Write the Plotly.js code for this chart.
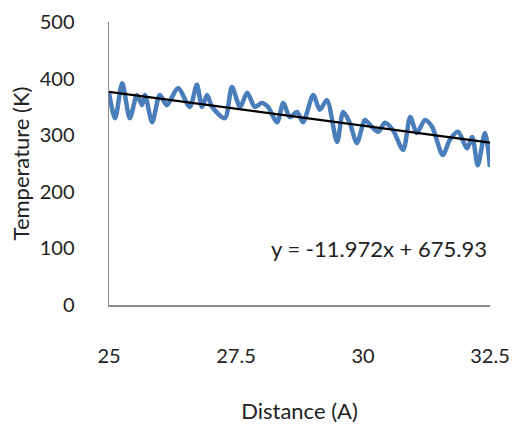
<!DOCTYPE html>
<html>
<head>
<meta charset="utf-8">
<script src="https://cdn.plot.ly/plotly-3.0.1.min.js"></script>
<style>html,body{margin:0;padding:0;background:#fff;}#chart{width:514px;height:427px;}</style>
</head>
<body>
<div id="chart"></div>
<script>
// Distance (A)
const distance = [25.0, 25.12, 25.26, 25.41, 25.55, 25.65, 25.71, 25.85, 26.0, 26.14,
  26.36, 26.59, 26.73, 26.83, 26.93, 27.03, 27.28, 27.42, 27.58, 27.72,
  27.87, 28.01, 28.13, 28.31, 28.43, 28.56, 28.7, 28.82, 29.02, 29.15,
  29.29, 29.49, 29.61, 29.74, 29.88, 30.04, 30.14, 30.3, 30.43, 30.59,
  30.79, 30.93, 31.06, 31.22, 31.36, 31.57, 31.71, 31.87, 32.05, 32.15,
  32.26, 32.4, 32.5];
// Temperature (K)
const temperature = [375, 330, 392, 330, 371, 353, 371, 323, 371, 353,
  383, 350, 389, 350, 371, 350, 330, 385, 350, 375,
  350, 357, 350, 323, 357, 332, 341, 323, 371, 345,
  362, 288, 341, 322, 286, 327, 318, 306, 322, 309,
  274, 332, 304, 327, 315, 265, 292, 306, 277, 297,
  247, 304, 244];
// Linear trendline as printed on the chart
const trendSlope = -11.972;
const trendIntercept = 675.93;
const trendX = [25, 32.5];
const trendY = trendX.map(x => trendSlope * x + trendIntercept);
const equationText = "y = -11.972x + 675.93";
const xTicks = [25, 27.5, 30, 32.5];
const xTickText = ["25", "27.5", "30", "32.5"];
const yTicks = [0, 100, 200, 300, 400, 500];

const font = "Lato, 'Open Sans', sans-serif";
const txt = "#222222";

const data = [
  {x: distance, y: temperature, type: "scatter", mode: "lines",
   line: {color: "#4a7ebb", width: 4.5, shape: "spline", smoothing: 0.8},
   hoverinfo: "skip", showlegend: false},
  {x: trendX, y: trendY, type: "scatter", mode: "lines",
   line: {color: "#000000", width: 2.2},
   hoverinfo: "skip", showlegend: false}
];

const layout = {
  width: 514, height: 427,
  margin: {l: 109, r: 24, t: 22, b: 122},
  paper_bgcolor: "#ffffff", plot_bgcolor: "#ffffff",
  font: {family: font, color: txt},
  xaxis: {
    range: [25, 32.5], tickvals: xTicks, ticktext: xTickText,
    showgrid: false, zeroline: false, showline: true,
    linecolor: "#8a8a8a", linewidth: 1.5, ticks: "",
    ticklabelstandoff: 32,
    tickfont: {family: font, size: 20, color: txt},
    title: {text: "Distance (A)", font: {family: font, size: 22, color: txt}, standoff: 38}
  },
  yaxis: {
    range: [0, 500], tickvals: yTicks,
    showgrid: false, zeroline: false, showline: true,
    linecolor: "#8a8a8a", linewidth: 1.5, ticks: "",
    ticklabelstandoff: 29,
    tickfont: {family: font, size: 20, color: txt},
    title: {text: "Temperature (K)", font: {family: font, size: 22, color: txt}, standoff: 4}
  },
  annotations: [{
    x: 30.31, y: 99, xref: "x", yref: "y", text: equationText,
    showarrow: false, font: {family: font, size: 22, color: txt}
  }]
};

Plotly.newPlot("chart", data, layout, {staticPlot: true, displayModeBar: false});
</script>
</body>
</html>
